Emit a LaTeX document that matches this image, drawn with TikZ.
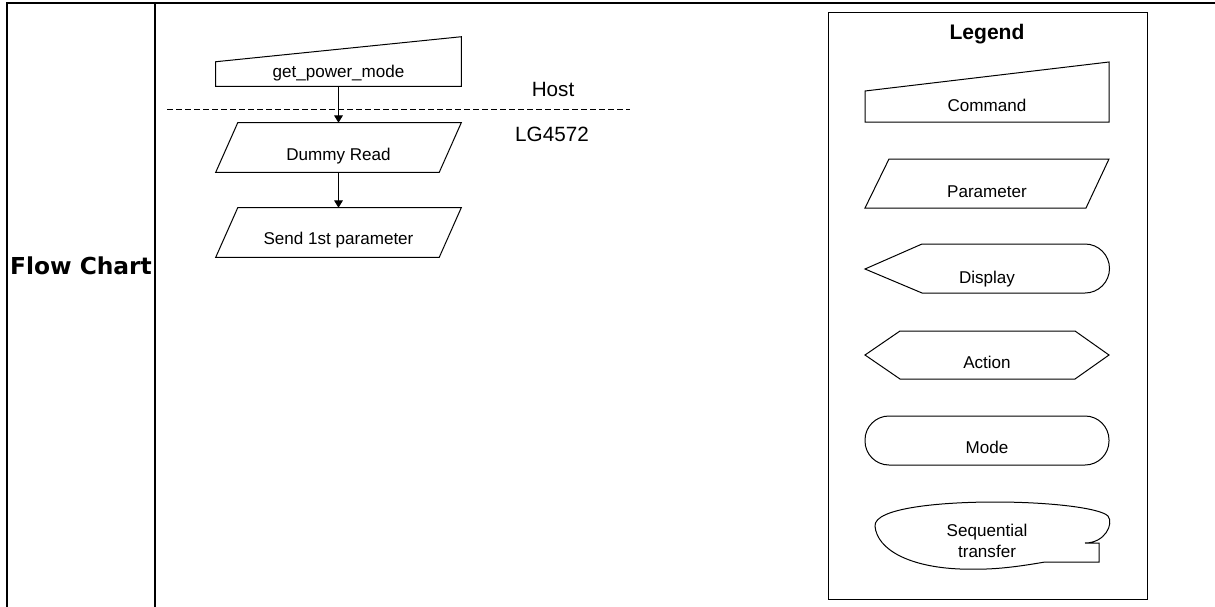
\documentclass[tikz,border=0pt]{standalone}
\usepackage{fontspec}
\setmainfont{Liberation Sans}
\newfontfamily\chartfont{DejaVu Sans}
\usetikzlibrary{arrows.meta}

\tikzset{
    frameline/.style={line width=1.5pt, draw=lineColour},
    shapeline/.style={line width=0.75pt, draw=lineColour},
    boxfont/.style={font=\fontsize{12.8}{15.75}\selectfont, inner sep=0pt},
    sidefont/.style={font=\fontsize{15.5}{18}\selectfont, inner sep=0pt},
    shapebox/.style={minimum width=183.75pt, minimum height=36.75pt, inner sep=0pt},
    flowarrow/.style={line width=0.75pt, draw=lineColour, -{Triangle[length=5.5pt,width=6.5pt]}},
}

\begin{document}
\begin{tikzpicture}[x=0.75pt, y=-0.75pt]
    % Define colours
    \definecolor{lineColour}{HTML}{000000}

    % Define page size
    \useasboundingbox (0,0) rectangle (1215,607);

    % Draw the table frame
    \draw[frameline] (6,3) -- (1215,3);
    \draw[frameline] (7,3) -- (7,607);
    \draw[frameline] (155,3) -- (155,607);
    \node[font=\chartfont\bfseries\fontsize{17.5}{20}\selectfont, inner sep=0pt, anchor=base] (flowChart) at (81,274) {Flow Chart};

    % Place the flow boxes
    \node[shapebox] (getPower) at (338.5,61.5) {};
    \node[shapebox] (dummyRead) at (338.5,147.5) {};
    \node[shapebox] (sendParam) at (338.5,232.5) {};

    % Draw the command box
    \draw[shapeline] ([shift={(0,25)}]getPower.north west) -- (getPower.north east) -- (getPower.south east) -- (getPower.south west) -- cycle;

    % Draw the parameter boxes
    \foreach \n in {dummyRead,sendParam}
        \draw[shapeline] ([shift={(22,0)}]\n.north west) -- (\n.north east) -- ([shift={(-22,0)}]\n.south east) -- (\n.south west) -- cycle;

    % Label the flow boxes
    \node[boxfont, anchor=base] (getPowerText) at (338.5,77.5) {get\_power\_mode};
    \node[boxfont, anchor=base] (dummyReadText) at (338.5,160.5) {Dummy Read};
    \node[boxfont, anchor=base] (sendParamText) at (338.5,244) {Send 1st parameter};

    % Draw the arrows
    \draw[flowarrow] (getPower) -- (dummyRead);
    \draw[flowarrow] (dummyRead) -- (sendParam);

    % Draw the host line
    \coordinate (hostLeft) at (167,109);
    \coordinate (hostRight) at (630,109);
    \draw[shapeline, dash pattern=on 4.5pt off 2.25pt] (hostLeft) -- (hostRight);
    \node[sidefont, anchor=base] (host) at (553,96) {Host};
    \node[sidefont, anchor=base] (chip) at (552,141) {LG4572};

    % Draw the legend box
    \draw[shapeline] (828,12) rectangle (1147,599);
    \node[font=\bfseries\fontsize{15.8}{18}\selectfont, inner sep=0pt, anchor=base] (legend) at (987,39.5) {Legend};

    % Draw the legend shapes
    \draw[shapeline] (865,91) -- (1109,62) -- (1109,122) -- (865,122) -- cycle;
    \draw[shapeline] (889,159) -- (1109,159) -- (1086,208) -- (865,208) -- cycle;
    \draw[shapeline] (865,269) -- (922,244) -- (1085,244) arc[start angle=-90, end angle=90, radius=24.5] -- (922,293) -- cycle;
    \draw[shapeline] (865,355) -- (900,331) -- (1075,331) -- (1109,355) -- (1075,379) -- (900,379) -- cycle;
    \draw[shapeline, rounded corners=18pt] (865,416) rectangle (1109,465);
    \draw[shapeline] (1099,562) -- (1045,562) .. controls (1010,568) and (990,570) .. (960,569)
        .. controls (910,567) and (877,550) .. (875,526)
        .. controls (874,508) and (940,502) .. (995,502)
        .. controls (1050,502) and (1100,508) .. (1108,516)
        .. controls (1114,524) and (1105,543) .. (1085,543) -- (1099,543) -- cycle;

    % Label the legend shapes
    \node[boxfont, anchor=base] (command) at (987,111) {Command};
    \node[boxfont, anchor=base] (parameter) at (987,197) {Parameter};
    \node[boxfont, anchor=base] (display) at (987,283) {Display};
    \node[boxfont, anchor=base] (action) at (987,368) {Action};
    \node[boxfont, anchor=base] (mode) at (987,453) {Mode};
    \node[boxfont, align=center] (transfer) at (987,541) {Sequential\\transfer};

\end{tikzpicture}
\end{document}
